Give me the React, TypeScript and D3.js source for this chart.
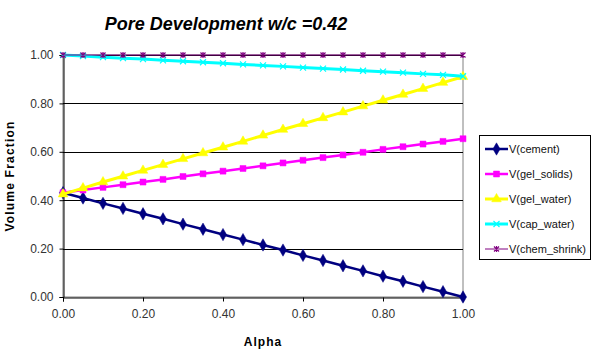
import React, { useRef, useEffect } from 'react';
import * as d3 from 'd3';

// alpha (degree of hydration)
const alpha = [0, 0.05, 0.1, 0.15, 0.2, 0.25, 0.3, 0.35, 0.4, 0.45, 0.5, 0.55, 0.6, 0.65, 0.7, 0.75, 0.8, 0.85, 0.9, 0.95, 1];

const vCement = [0.431, 0.409, 0.387, 0.366, 0.344, 0.323, 0.301, 0.280, 0.258, 0.237, 0.215, 0.194, 0.172, 0.151, 0.129, 0.108, 0.086, 0.065, 0.043, 0.022, 0.0];
const vGelSolids = [0.431, 0.442, 0.453, 0.464, 0.475, 0.486, 0.498, 0.509, 0.520, 0.531, 0.542, 0.554, 0.565, 0.576, 0.587, 0.598, 0.610, 0.621, 0.632, 0.643, 0.654];
const vGelWater = [0.425, 0.450, 0.475, 0.499, 0.523, 0.547, 0.571, 0.595, 0.619, 0.643, 0.668, 0.692, 0.716, 0.740, 0.764, 0.789, 0.813, 0.837, 0.861, 0.886, 0.910];
const vCapWater = [1.0, 0.996, 0.991, 0.987, 0.983, 0.978, 0.974, 0.970, 0.966, 0.961, 0.957, 0.953, 0.948, 0.944, 0.940, 0.935, 0.931, 0.927, 0.922, 0.918, 0.912];
const vChemShrink = [1, 1, 1, 1, 1, 1, 1, 1, 1, 1, 1, 1, 1, 1, 1, 1, 1, 1, 1, 1, 1];

const yTicks = [0, 0.2, 0.4, 0.6, 0.8, 1.0];
const xTicks = [0, 0.2, 0.4, 0.6, 0.8, 1.0];

const seriesNames = ['V(cement)', 'V(gel_solids)', 'V(gel_water)', 'V(cap_water)', 'V(chem_shrink)'];

const FONT = "Arial, 'Liberation Sans', sans-serif";

export default function App() {
    const ref = useRef<SVGSVGElement>(null);

    useEffect(() => {
        const svg = d3.select(ref.current);
        svg.selectAll('*').remove();

        const left = 63, right = 463, top = 55, bottom = 297;
        const x = d3.scaleLinear().domain([0, 1]).range([left, right]);
        const y = d3.scaleLinear().domain([0, 1]).range([bottom, top]);

        const series = [
            { name: seriesNames[0], values: vCement, color: '#000080', width: 2.5, marker: 'diamond' },
            { name: seriesNames[1], values: vGelSolids, color: '#FF00FF', width: 2.5, marker: 'square' },
            { name: seriesNames[2], values: vGelWater, color: '#FFFF00', width: 3, marker: 'triangle' },
            { name: seriesNames[3], values: vCapWater, color: '#00FFFF', width: 3, marker: 'x' },
            { name: seriesNames[4], values: vChemShrink, color: '#800080', width: 1, marker: 'star' },
        ];

        // plot area border
        svg.append('rect')
            .attr('x', left).attr('y', top)
            .attr('width', right - left).attr('height', bottom - top)
            .attr('fill', 'white').attr('stroke', '#808080').attr('stroke-width', 1);

        // gridlines
        svg.append('g')
            .selectAll('line')
            .data(yTicks.slice(1))
            .enter()
            .append('line')
            .attr('x1', left).attr('x2', right)
            .attr('y1', d => Math.round(y(d)) + 0.5).attr('y2', d => Math.round(y(d)) + 0.5)
            .attr('stroke', '#000').attr('stroke-width', 1);

        // axes
        const yAxis = svg.append('g')
            .attr('transform', 'translate(' + (left + 0.5) + ',0)')
            .call(d3.axisLeft(y).tickValues(yTicks).tickSize(4).tickPadding(6).tickFormat(d3.format('.2f')));
        const xAxis = svg.append('g')
            .attr('transform', 'translate(0,' + (bottom + 0.5) + ')')
            .call(d3.axisBottom(x).tickValues(xTicks).tickSize(4).tickPadding(8).tickFormat(d3.format('.2f')));
        [xAxis, yAxis].forEach(a => {
            a.select('.domain').attr('stroke', '#000');
            a.selectAll('.tick line').attr('stroke', '#000');
            a.selectAll('text')
                .style('font-family', FONT)
                .style('font-size', '12px')
                .attr('fill', '#333');
        });

        const markerPath = (type: string) => {
            if (type === 'diamond') return d3.symbol().type(d3.symbolDiamond).size(44)();
            if (type === 'square') return d3.symbol().type(d3.symbolSquare).size(36)();
            if (type === 'triangle') return d3.symbol().type(d3.symbolTriangle).size(40)();
            if (type === 'x') return 'M-3,-3L3,3M-3,3L3,-3';
            return 'M-2.5,-2.5L2.5,2.5M-2.5,2.5L2.5,-2.5M0,-3L0,3';
        };

        const line = d3.line<number>()
            .x((d, i) => x(alpha[i]))
            .y(d => y(d));

        series.forEach(s => {
            const g = svg.append('g');
            g.append('path')
                .datum(s.values)
                .attr('fill', 'none')
                .attr('stroke', s.color)
                .attr('stroke-width', s.width)
                .attr('d', line);
            const stroked = s.marker === 'x' || s.marker === 'star';
            g.selectAll('path.pt')
                .data(s.values)
                .enter()
                .append('path')
                .attr('class', 'pt')
                .attr('transform', (d, i) => 'translate(' + x(alpha[i]) + ',' + y(d) + ')')
                .attr('d', markerPath(s.marker))
                .attr('fill', stroked ? 'none' : s.color)
                .attr('stroke', s.color)
                .attr('stroke-width', stroked ? 1.2 : 0.5);
        });

        // title
        svg.append('text')
            .attr('x', 226).attr('y', 30)
            .attr('text-anchor', 'middle')
            .style('font-family', FONT)
            .style('font-size', '18px')
            .style('font-weight', 'bold')
            .style('font-style', 'italic')
            .text('Pore Development w/c =0.42');

        // axis titles
        svg.append('text')
            .attr('x', (left + right) / 2).attr('y', 346)
            .attr('text-anchor', 'middle')
            .style('font-family', FONT).style('font-size', '12px').style('font-weight', 'bold')
            .style('letter-spacing', '1px')
            .text('Alpha');
        svg.append('text')
            .attr('transform', 'translate(14,' + (top + bottom) / 2 + ') rotate(-90)')
            .attr('text-anchor', 'middle')
            .style('font-family', FONT).style('font-size', '12px').style('font-weight', 'bold')
            .style('letter-spacing', '1.2px')
            .text('Volume Fraction');

        // legend
        const lg = svg.append('g');
        lg.append('rect')
            .attr('x', 479.5).attr('y', 135.5).attr('width', 111).attr('height', 124)
            .attr('fill', 'white').attr('stroke', '#000').attr('stroke-width', 1);
        series.forEach((s, i) => {
            const ly = 149 + i * 25;
            lg.append('line')
                .attr('x1', 485).attr('x2', 508).attr('y1', ly).attr('y2', ly)
                .attr('stroke', s.color).attr('stroke-width', s.width);
            const stroked = s.marker === 'x' || s.marker === 'star';
            lg.append('path')
                .attr('transform', 'translate(496.5,' + ly + ')')
                .attr('d', markerPath(s.marker))
                .attr('fill', stroked ? 'none' : s.color)
                .attr('stroke', s.color)
                .attr('stroke-width', stroked ? 1.2 : 0.5);
            lg.append('text')
                .attr('x', 509).attr('y', ly + 4)
                .style('font-family', FONT).style('font-size', '11px')
                .attr('fill', '#111')
                .text(s.name);
        });
    }, []);

    return (
        <svg ref={ref} width={600} height={359}
            style={{ position: 'absolute', left: 0, top: 0, background: 'white' }} />
    );
}
